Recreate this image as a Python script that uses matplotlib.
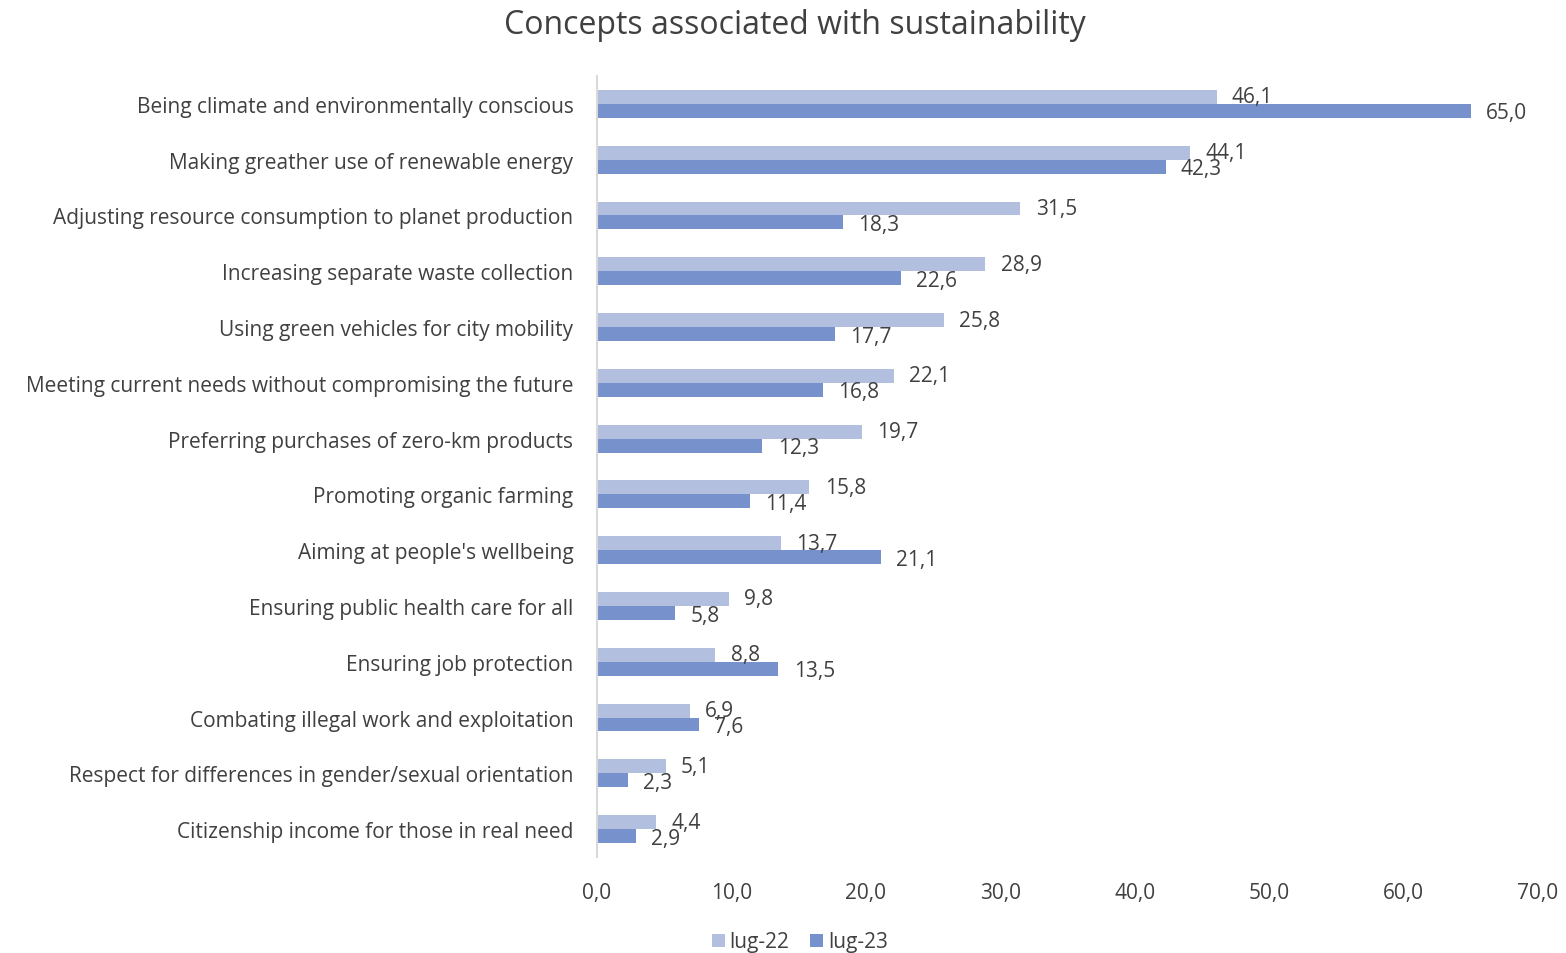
import matplotlib
matplotlib.use("Agg")
import matplotlib.pyplot as plt
import numpy as np
from matplotlib.ticker import FuncFormatter

categories = [
    "Being climate and environmentally conscious",
    "Making greather use of renewable energy",
    "Adjusting resource consumption to planet production",
    "Increasing separate waste collection",
    "Using green vehicles for city mobility",
    "Meeting current needs without compromising the future",
    "Preferring purchases of zero-km products",
    "Promoting organic farming",
    "Aiming at people's wellbeing",
    "Ensuring public health care for all",
    "Ensuring job protection",
    "Combating illegal work and exploitation",
    "Respect for differences in gender/sexual orientation",
    "Citizenship income for those in real need",
]
lug22 = [46.1, 44.1, 31.5, 28.9, 25.8, 22.1, 19.7, 15.8, 13.7, 9.8, 8.8, 6.9, 5.1, 4.4]
lug23 = [65.0, 42.3, 18.3, 22.6, 17.7, 16.8, 12.3, 11.4, 21.1, 5.8, 13.5, 7.6, 2.3, 2.9]
series_names = ["lug-22", "lug-23"]

plt.rcParams['font.family'] = ['Open Sans', 'DejaVu Sans']
text_color = "#404040"
c22 = "#B3BFDF"
c23 = "#7791CD"
fs = 15

fig = plt.figure(figsize=(15.66, 9.54), dpi=100)
ax = fig.add_axes([597/1566, 1-858/954, (1538-597)/1566, (858-77)/954])

y = np.arange(len(categories))
h = 0.25
b1 = ax.barh(y - h/2, lug22, height=h, color=c22, label=series_names[0])
b2 = ax.barh(y + h/2, lug23, height=h, color=c23, label=series_names[1])

def fmt(v):
    return f"{v:.1f}".replace(".", ",")

for bars, vals, dy in ((b1, lug22, 0), (b2, lug23, -1.5)):
    for bar, v in zip(bars, vals):
        ax.annotate(fmt(v), xy=(v, bar.get_y() + bar.get_height()/2),
                    xytext=(11, dy), textcoords="offset points",
                    ha="left", va="center", fontsize=fs, color=text_color)

ax.set_xlim(0, 70)
ax.set_xticks(np.arange(0, 71, 10))
ax.xaxis.set_major_formatter(FuncFormatter(lambda v, p: fmt(v)))
ax.set_ylim(len(categories) - 0.5, -0.5)
ax.set_yticks(y)
ax.set_yticklabels(categories)
ax.tick_params(axis="y", length=0, pad=17, labelsize=fs, labelcolor=text_color)
ax.tick_params(axis="x", length=0, pad=18, labelsize=fs, labelcolor=text_color)
for s in ("top", "right", "bottom"):
    ax.spines[s].set_visible(False)
ax.spines["left"].set_color("#D9D9D9")
ax.spines["left"].set_linewidth(1.5)

fig.text(795/1566, 1-25/954, "Concepts associated with sustainability",
         ha="center", va="center", fontsize=23, color=text_color)

leg = fig.legend(handles=[b1, b2], labels=series_names, loc="center",
                 bbox_to_anchor=(800/1566, 1-943/954), ncol=2, frameon=False,
                 fontsize=fs, handlelength=0.6, handleheight=0.6,
                 handletextpad=0.25, columnspacing=1.0)
for t in leg.get_texts():
    t.set_color(text_color)

fig.savefig("out.png", dpi=100)
